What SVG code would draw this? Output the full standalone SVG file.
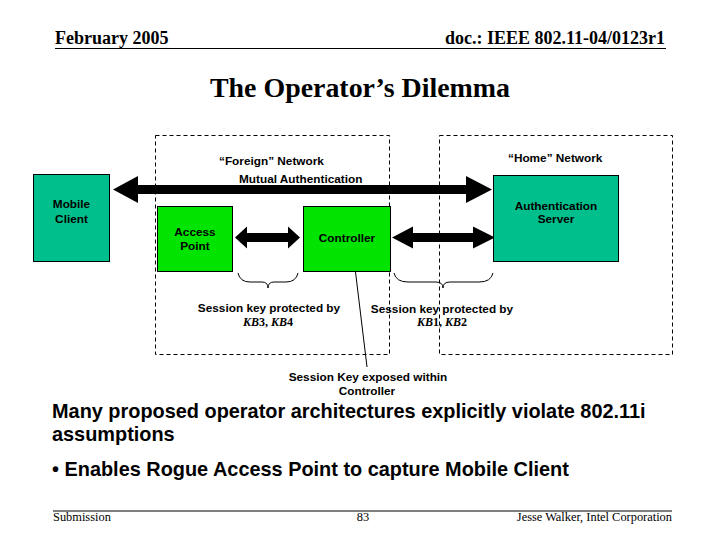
<svg xmlns="http://www.w3.org/2000/svg" width="720" height="540" viewBox="0 0 720 540">
<style>
.lbl{font-family:"Liberation Sans",Arial,sans-serif;font-size:11.8px;font-weight:bold;fill:#000}
.mid{text-anchor:middle}
.kb{font-family:"Liberation Serif","Times New Roman",serif;font-size:12px;font-weight:bold;fill:#000;text-anchor:middle}
.hdr{font-family:"Liberation Serif","Times New Roman",serif;font-weight:bold;fill:#000}
.ftr{font-family:"Liberation Serif","Times New Roman",serif;font-size:12.4px;fill:#000}
.body{font-family:"Liberation Sans",Arial,sans-serif;font-size:19.9px;font-weight:bold;fill:#000}
.dash{fill:none;stroke:#000;stroke-width:1;stroke-dasharray:4,3}
.teal{fill:#00BF8C;stroke:#000;stroke-width:1}
.green{fill:#00E400;stroke:#000;stroke-width:1}
.rule{stroke:#000;stroke-width:1.2}
</style>
<rect width="720" height="540" fill="#fff"/>
<g id="header">
<text class="hdr" x="55" y="44" font-size="18">February 2005</text>
<text class="hdr" x="665" y="44" font-size="18" text-anchor="end">doc.: IEEE 802.11-04/0123r1</text>
<line class="rule" x1="55" y1="48.5" x2="666" y2="48.5"/>
<text class="hdr" x="360" y="97" font-size="27.9" text-anchor="middle">The Operator’s Dilemma</text>
</g>
<g id="foreign-network">
<rect class="dash" x="155.5" y="135.5" width="234" height="219"/>
<text class="lbl" x="219" y="165">“Foreign” Network</text>
</g>
<g id="home-network">
<rect class="dash" x="439.5" y="135.5" width="233" height="219"/>
<text class="lbl" x="508" y="162">“Home” Network</text>
</g>
<g id="connectors">
<polygon points="113,189.5 138,176 138,185 466,185 466,176 492,189.5 466,203 466,194 138,194 138,203" fill="#000"/>
<text class="lbl" x="239" y="183">Mutual Authentication</text>
<polygon points="235,237.5 247,226.5 247,233 288,233 288,226.5 300,237.5 288,248.5 288,242 247,242 247,248.5" fill="#000"/>
<polygon points="392,237.5 413,226.5 413,233 473,233 473,226.5 495,237.5 473,248.5 473,242 413,242 413,248.5" fill="#000"/>
<path d="M238,273 Q240,282 250,282 L262,282 Q268,282 268,288 Q268,282 274,282 L286,282 Q296,282 298,273" fill="none" stroke="#000" stroke-width="1"/>
<path d="M394,273 Q396,282 408,282 L436,282 Q443,282 443,288 Q443,282 450,282 L479,282 Q491,282 493,273" fill="none" stroke="#000" stroke-width="1"/>
<line x1="352" y1="243" x2="367" y2="367" stroke="#000" stroke-width="1"/>
</g>
<g id="mobile-client">
<rect class="teal" x="33.5" y="174.5" width="76" height="87"/>
<text class="lbl mid" x="71.5" y="208">Mobile</text>
<text class="lbl mid" x="71.5" y="223">Client</text>
</g>
<g id="access-point">
<rect class="green" x="157.5" y="206.5" width="75" height="65"/>
<text class="lbl mid" x="195" y="236">Access</text>
<text class="lbl mid" x="195" y="250">Point</text>
</g>
<g id="controller">
<rect class="green" x="303.5" y="206.5" width="87" height="65"/>
<text class="lbl mid" x="347" y="242">Controller</text>
</g>
<g id="authentication-server">
<rect class="teal" x="493.5" y="175.5" width="125" height="86"/>
<text class="lbl mid" x="556" y="210">Authentication</text>
<text class="lbl mid" x="556" y="223">Server</text>
</g>
<g id="key-labels">
<text class="lbl mid" x="269" y="312">Session key protected by</text>
<text class="kb" x="268" y="326"><tspan font-style="italic">KB</tspan>3, <tspan font-style="italic">KB</tspan>4</text>
<text class="lbl mid" x="442" y="313">Session key protected by</text>
<text class="kb" x="442" y="326"><tspan font-style="italic">KB</tspan>1, <tspan font-style="italic">KB</tspan>2</text>
<text class="lbl mid" x="368" y="381">Session Key exposed within</text>
<text class="lbl mid" x="367" y="395">Controller</text>
</g>
<g id="body-text">
<text class="body" x="52" y="418">Many proposed operator architectures explicitly violate 802.11i</text>
<text class="body" x="52" y="441">assumptions</text>
<text class="body" x="52" y="476">• Enables Rogue Access Point to capture Mobile Client</text>
</g>
<g id="footer">
<line class="rule" x1="53" y1="511" x2="672" y2="511"/>
<text class="ftr" x="53" y="521">Submission</text>
<text class="ftr" x="363" y="521" text-anchor="middle">83</text>
<text class="ftr" x="672" y="521" text-anchor="end">Jesse Walker, Intel Corporation</text>
</g>
</svg>
